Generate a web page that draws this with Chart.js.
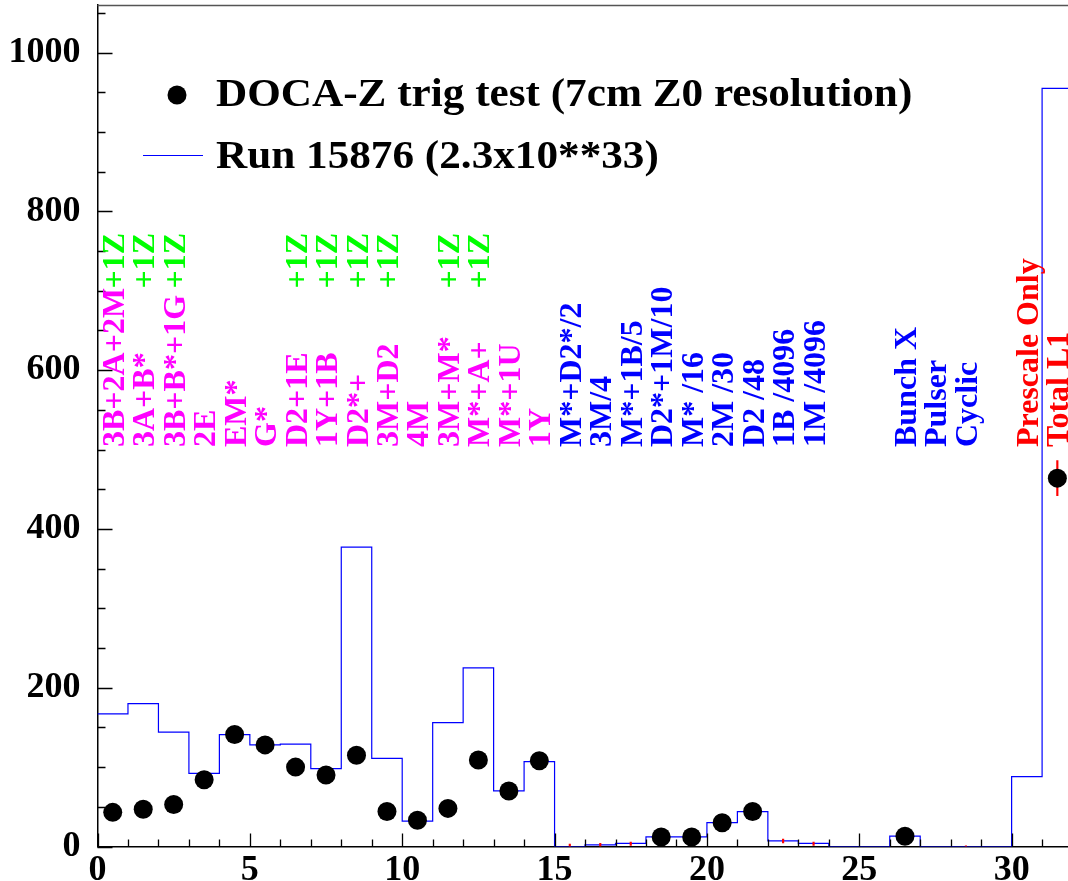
<!DOCTYPE html>
<html>
<head>
<meta charset="utf-8">
<title>DOCA-Z trigger test</title>
<script src="https://cdn.jsdelivr.net/npm/chart.js@4.4.0/dist/chart.umd.min.js"></script>
<style>
  html, body { margin: 0; padding: 0; background: #fff; overflow: hidden; }
  #wrap { width: 1068px; height: 881px; }
</style>
</head>
<body>
<div id="wrap"><canvas id="trigChart"></canvas></div>
<script>
'use strict';

/***** DATA *****/
// L1 trigger bins, bin i covers [i, i+1)
var runCounts = [167, 180, 144, 92, 141, 128, 129, 98, 377, 111, 32, 156, 225, 70, 107,
                 0, 2, 4, 12, 12, 30, 44, 7, 4, 0, 0, 13, 0, 0, 0, 88, 955];
var docaCounts = [43, 47, 53, 84, 141, 128, 100, 90, 115, 44, 33, 48, 109, 70, 108,
                  null, null, null, 12, 12, 30, 44, null, null, null, null, 13, null, null, null, null, 464];

// red error bars of the test sample that are not hidden under a marker
var errBins = [15.5, 16.5, 17.5, 22.5, 23.5, 28.5, 31.5];
var errLow  = [0, 0, 1.5, 4.5, 1.5, 0, 442];
var errHigh = [3, 4, 5.5, 9.5, 5.5, 1, 486];

var xTicks = [0, 5, 10, 15, 20, 25, 30];
var yTicks = [0, 200, 400, 600, 800, 1000];

// trigger names, one per bin starting at the given bin
var physicsTrigs = ['3B+2A+2M', '3A+B*', '3B+B*+1G', '2E', 'EM*', 'G*', 'D2+1E', '1Y+1B',
                    'D2*+', '3M+D2', '4M', '3M+M*', 'M*+A+', 'M*+1U', '1Y'];
var physicsFirst = 0;
var zTagBins = [0, 1, 2, 6, 7, 8, 9, 11, 12];
var prescaledTrigs = ['M*+D2*/2', '3M/4', 'M*+1B/5', 'D2*+1M/10', 'M* /16', '2M /30',
                      'D2 /48', '1B /4096', '1M /4096'];
var prescaledFirst = 15;
var calibTrigs = ['Bunch X', 'Pulser', 'Cyclic'];
var calibFirst = 26;
var totalTrigs = ['Prescale Only', 'Total L1'];
var totalFirst = 30;

/***** HELPERS *****/
var FONT = '"Liberation Serif", "Times New Roman", serif';

function histPoints (counts) {
   var pts = [];
   for (var i = 0; i < counts.length; i++)
      pts.push({ x: i, y: counts[i] });
   pts.push({ x: counts.length, y: counts[counts.length - 1] });
   return pts;
}

function centrePoints (counts) {
   var pts = [];
   for (var i = 0; i < counts.length; i++) {
      if (counts[i] !== null) pts.push({ x: i + 0.5, y: counts[i] });
   }
   return pts;
}

function errPoints () {
   var pts = [];
   for (var i = 0; i < errBins.length; i++)
      pts.push({ x: errBins[i], y: [errLow[i], errHigh[i]] });
   return pts;
}

function drawUp (ctx, text, x, y, colour, align) {
   ctx.save();
   ctx.translate(x, y);
   ctx.rotate(-Math.PI / 2);
   ctx.fillStyle = colour;
   ctx.textAlign = align;
   ctx.textBaseline = 'alphabetic';
   ctx.fillText(text, 0, 0);
   ctx.restore();
}

/***** PLUGINS *****/
// ROOT style frame: ticks pointing into the plot, plus the top edge
var frameTicks = {
   id: 'frameTicks',
   afterDatasetsDraw: function (chart) {
      var ctx = chart.ctx, area = chart.chartArea;
      var xs = chart.scales.x, ys = chart.scales.y;
      ctx.save();
      ctx.strokeStyle = '#000';
      ctx.lineWidth = 1.3;
      ctx.beginPath();
      for (var v = 0; v <= xs.max; v += 1) {
         var px = Math.round(xs.getPixelForValue(v)) + 0.5;
         var len = v % 5 === 0 ? 13 : 7;
         ctx.moveTo(px, area.bottom);
         ctx.lineTo(px, area.bottom - len);
      }
      for (var w = 0; w <= ys.max; w += 50) {
         var py = Math.round(ys.getPixelForValue(w)) + 0.5;
         var l = w % 200 === 0 ? 15 : 8;
         ctx.moveTo(area.left, py);
         ctx.lineTo(area.left + l, py);
      }
      ctx.stroke();
      ctx.strokeStyle = '#555';
      ctx.lineWidth = 1.5;
      ctx.beginPath();
      ctx.moveTo(area.left, area.top + 0.5);
      ctx.lineTo(area.right, area.top + 0.5);
      ctx.stroke();
      ctx.restore();
   }
};

// trigger names written upwards above each bin
var trigNames = {
   id: 'trigNames',
   afterDatasetsDraw: function (chart) {
      var ctx = chart.ctx, xs = chart.scales.x;
      var bottom = 447, top = 233, shift = 11;
      ctx.save();
      ctx.font = 'bold 32px ' + FONT;
      function column (names, first, colour) {
         for (var i = 0; i < names.length; i++) {
            var x = xs.getPixelForValue(first + i + 0.5) + shift;
            drawUp(ctx, names[i], x, bottom, colour, 'left');
         }
      }
      column(physicsTrigs, physicsFirst, '#ff00ff');
      column(prescaledTrigs, prescaledFirst, '#0000ff');
      column(calibTrigs, calibFirst, '#0000ff');
      column(totalTrigs, totalFirst, '#ff0000');
      for (var k = 0; k < zTagBins.length; k++) {
         drawUp(ctx, '+1Z', xs.getPixelForValue(zTagBins[k] + 0.5) + shift, top, '#00ff00', 'right');
      }
      ctx.restore();
   }
};

// legend box in the upper left corner
var cornerLegend = {
   id: 'cornerLegend',
   afterDraw: function (chart) {
      var ctx = chart.ctx;
      var dots = chart.data.datasets[0], run = chart.data.datasets[2];
      ctx.save();
      ctx.fillStyle = '#000';
      ctx.beginPath();
      ctx.arc(177, 95, 9.5, 0, Math.PI * 2);
      ctx.fill();
      ctx.strokeStyle = run.borderColor;
      ctx.lineWidth = 1.2;
      ctx.beginPath();
      ctx.moveTo(143, 155.5);
      ctx.lineTo(203, 155.5);
      ctx.stroke();
      ctx.font = 'bold 40px ' + FONT;
      ctx.textBaseline = 'middle';
      ctx.fillStyle = '#000';
      ctx.translate(216, 0);
      ctx.scale(1.08, 1);
      ctx.fillText(dots.label, 0, 96);
      ctx.fillText(run.label, 0, 158);
      ctx.restore();
   }
};

/***** CHART *****/
var tickFont = { family: FONT, size: 36, weight: 'bold' };

new Chart(document.getElementById('trigChart'), {
   type: 'scatter',
   data: {
      datasets: [
         {
            type: 'scatter',
            label: 'DOCA-Z trig test (7cm Z0 resolution)',
            data: centrePoints(docaCounts),
            pointRadius: 9.5,
            pointHoverRadius: 9.5,
            backgroundColor: '#000',
            borderWidth: 0,
            order: 0
         },
         {
            type: 'bar',
            label: 'errors',
            data: errPoints(),
            backgroundColor: '#ff0000',
            barThickness: 1.5,
            order: 1
         },
         {
            type: 'line',
            label: 'Run 15876 (2.3x10**33)',
            data: histPoints(runCounts),
            stepped: 'before',
            borderColor: '#0000ff',
            borderWidth: 1.2,
            pointRadius: 0,
            fill: false,
            order: 2
         }
      ]
   },
   options: {
      responsive: true,
      maintainAspectRatio: false,
      animation: false,
      events: [],
      layout: { autoPadding: false, padding: { top: 5, right: 0, left: 0, bottom: 0 } },
      plugins: {
         legend: { display: false },
         tooltip: { enabled: false }
      },
      scales: {
         x: {
            type: 'linear',
            min: 0,
            max: 31.85,
            offset: false,
            afterBuildTicks: function (scale) {
               scale.ticks = xTicks.map(function (v) { return { value: v }; });
            },
            afterFit: function (scale) {
               scale.height = 34.5;
               scale.paddingLeft = 0;
               scale.paddingRight = 0;
            },
            grid: { display: false, drawTicks: false, offset: false },
            border: { display: true, color: '#000', width: 1.5 },
            ticks: { font: tickFont, color: '#000', padding: 3, maxRotation: 0, autoSkip: false,
                     callback: function (v) { return String(v); } }
         },
         y: {
            type: 'linear',
            min: 0,
            max: 1060,
            afterBuildTicks: function (scale) {
               scale.ticks = yTicks.map(function (v) { return { value: v }; });
            },
            afterFit: function (scale) {
               scale.width = 97.5;
               scale.paddingTop = 0;
               scale.paddingBottom = 0;
            },
            grid: { display: false, drawTicks: false },
            border: { display: true, color: '#000', width: 1.5 },
            ticks: { font: tickFont, color: '#000', padding: 17,
                     callback: function (v) { return String(v); } }
         }
      }
   },
   plugins: [frameTicks, trigNames, cornerLegend]
});
</script>
</body>
</html>
